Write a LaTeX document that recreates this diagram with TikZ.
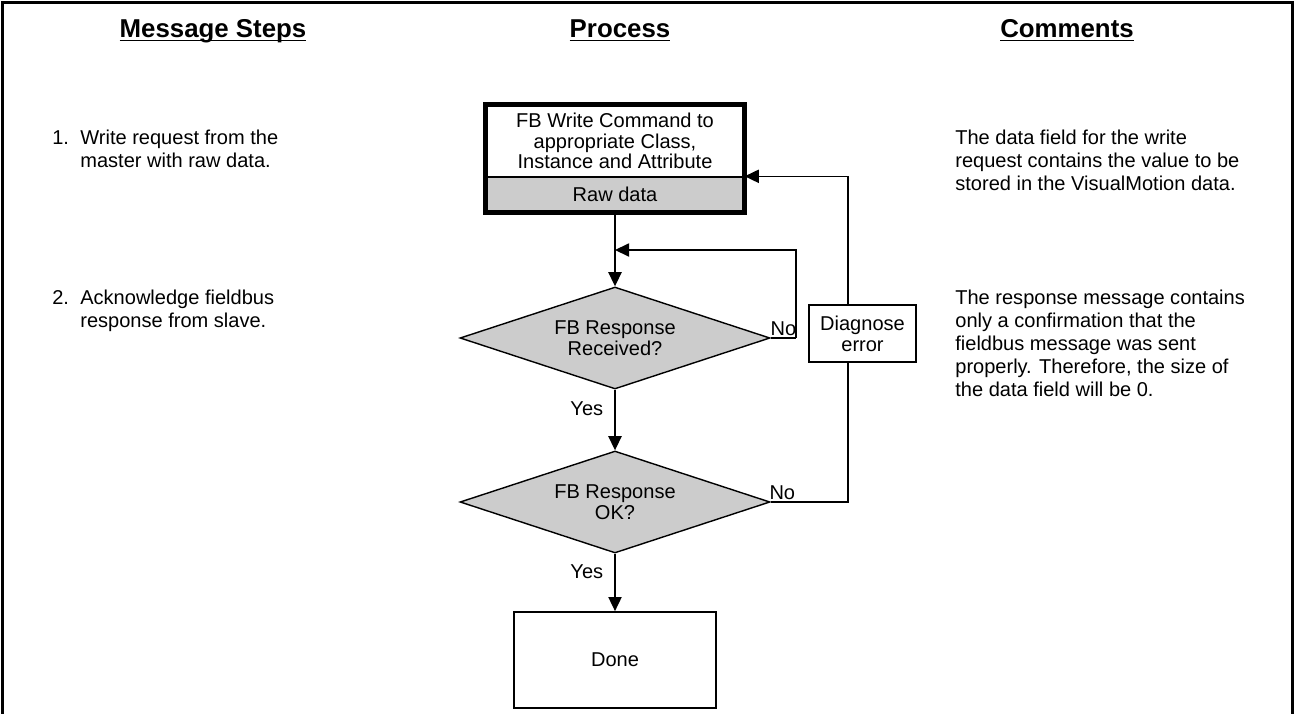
\documentclass[tikz,border=0pt]{standalone}
\usepackage{fontspec}
\setmainfont{Liberation Sans}
\usepackage{tikz}
\usetikzlibrary{shapes,arrows.meta}
\tikzstyle{arrow} = [draw, -{Triangle[length=8pt,width=7.5pt]}, line width=0.8pt]
\tikzstyle{line} = [draw, line width=0.8pt]
\tikzstyle{cmdBlock} = [draw, rectangle, fill=white, minimum width=5.16cm,
    minimum height=1.44cm, inner sep=0pt, align=center, line width=0.8pt,
    font=\fontsize{11.4}{11.8}\selectfont]
\tikzstyle{dataBlock} = [draw, rectangle, fill=gray!40, minimum width=5.16cm,
    minimum height=0.7cm, inner sep=0pt, line width=0.8pt]
\tikzstyle{decisionBlock} = [draw, diamond, aspect=3, fill=gray!40, minimum width=6.2cm,
    minimum height=2.04cm, inner sep=0pt, align=center, line width=0.8pt,
    font=\fontsize{11.4}{11.8}\selectfont]
\tikzstyle{errorBlock} = [draw, rectangle, fill=white, minimum width=2.14cm,
    minimum height=1.14cm, inner sep=0pt, align=center, line width=0.8pt,
    font=\fontsize{11.4}{11.8}\selectfont]
\tikzstyle{doneBlock} = [draw, rectangle, minimum width=4.04cm,
    minimum height=1.92cm, line width=1pt]
\tikzstyle{header} = [anchor=base, font=\fontsize{14.7}{16}\selectfont\bfseries]
\tikzstyle{textBlock} = [anchor=north west, align=left, inner sep=0pt]

\begin{document}
\begin{tikzpicture}[every node/.style={font=\fontsize{11.4}{13}\selectfont}]
      \useasboundingbox (0,0) rectangle (25.9,-14.26);
      % frame, open at the bottom
      \draw [line width=1.6pt] (0.05,-14.4) -- (0.05,-0.05) -- (25.85,-0.05) -- (25.85,-14.4);

      % column headings
      \node [header] (hdrSteps) at (4.26,-0.76) {\underline{\smash{Message Steps}}};
      \node [header] (hdrProcess) at (12.4,-0.76) {\underline{\smash{Process}}};
      \node [header] (hdrComments) at (21.34,-0.76) {\underline{\smash{Comments}}};

      % Place nodes
      \node [cmdBlock] (cmd) at (12.3,-2.82) {FB Write Command to\\appropriate Class,\\Instance and Attribute};
      \node [dataBlock, below of=cmd, node distance=1.07cm] (raw) {Raw data};
      \draw [line width=2.6pt] (cmd.north west) rectangle (raw.south east);

      \node [decisionBlock, below of=raw, node distance=2.87cm] (received) {FB Response\\Received?};
      \node [decisionBlock, below of=received, node distance=3.28cm] (ok) {FB Response\\OK?};
      \node [doneBlock, below of=ok, node distance=3.16cm] (done) {Done};
      \node [errorBlock, right of=received, node distance=4.95cm, yshift=0.09cm] (diagnose) {Diagnose\\error};

      \coordinate [below of=raw, node distance=1.11cm] (waitJoin);
      \coordinate [right of=received, node distance=3.62cm] (waitCorner);
      \coordinate [right of=ok, node distance=4.66cm] (errCorner);

      % message steps and comments
      \node [textBlock] (step1num) at (1.04,-2.6) {1.};
      \node [textBlock] (step1) at (1.6,-2.6) {Write request from the\\master with raw data.};
      \node [textBlock] (step2num) at (1.04,-5.8) {2.};
      \node [textBlock] (step2) at (1.6,-5.8) {Acknowledge fieldbus\\response from slave.};
      \node [textBlock] (note1) at (19.1,-2.6) {The data field for the write\\request contains the value to be\\stored in the VisualMotion data.};
      \node [textBlock] (note2) at (19.1,-5.8) {The response message contains\\only a confirmation that the\\fieldbus message was sent\\properly. Therefore, the size of\\the data field will be 0.};

      \path [arrow] (raw.south) -- (received.north);
      \path [line] (received.east) -- node [above, inner sep=1pt] {No} (waitCorner);
      \path [arrow] (waitCorner) |- (waitJoin);
      \path [arrow] (received.south) -- node [left, pos=0.32, xshift=-3pt] {Yes} (ok.north);
      \path [arrow] (ok.south) -- node [left, pos=0.32, xshift=-3pt] {Yes} (done.north);
      \path [line] (ok.east) -- node [above, pos=0.15, inner sep=1pt] {No} (errCorner) -- (errCorner |- diagnose.south);
      \path [arrow] (errCorner |- diagnose.north) |- (raw.north east);

  \end{tikzpicture}
\end{document}
